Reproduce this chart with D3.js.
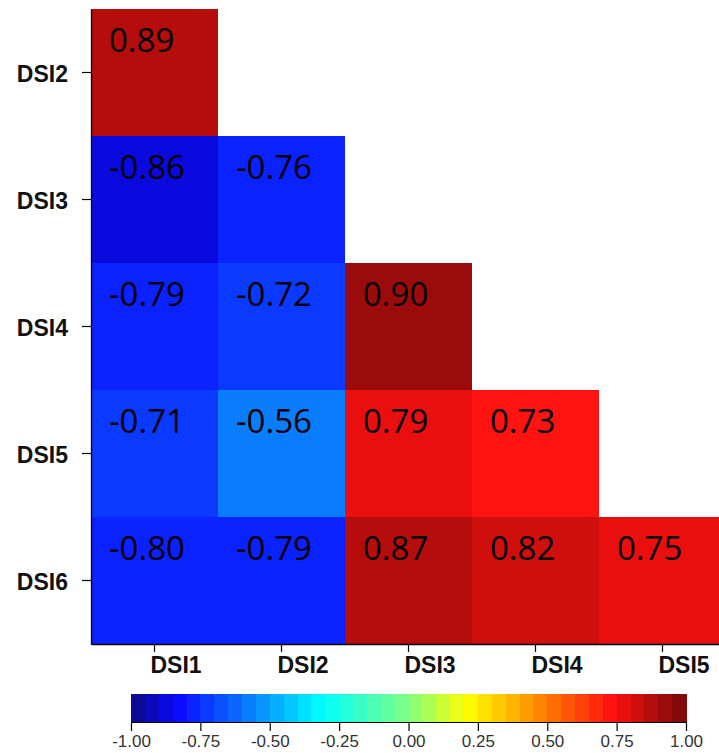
<!DOCTYPE html>
<html>
<head>
<meta charset="utf-8">
<script src="https://cdn.jsdelivr.net/npm/d3@7"></script>
<style>
  html, body { margin: 0; padding: 0; background: #fff; }
  svg { display: block; }
</style>
</head>
<body>
<svg id="chart" width="719" height="753"></svg>
<script>
// Variables on each axis of the lower-triangle correlation matrix
const rowVars = ["DSI2", "DSI3", "DSI4", "DSI5", "DSI6"];
const colVars = ["DSI1", "DSI2", "DSI3", "DSI4", "DSI5"];

// Correlation coefficients, one array per row (lower triangle only)
const corrDSI2 = [0.89];
const corrDSI3 = [-0.86, -0.76];
const corrDSI4 = [-0.79, -0.72, 0.90];
const corrDSI5 = [-0.71, -0.56, 0.79, 0.73];
const corrDSI6 = [-0.80, -0.79, 0.87, 0.82, 0.75];
const corrRows = [corrDSI2, corrDSI3, corrDSI4, corrDSI5, corrDSI6];

// Colour key ticks
const legendTicks = [-1, -0.75, -0.5, -0.25, 0, 0.25, 0.5, 0.75, 1];

// Jet-like colour ramp and the number of discrete colour steps
const rampStops = [-1, -0.85, -0.59, -0.32, 0, 0.22, 0.5, 0.75, 1];
const rampColors = ["#0a0a96", "#0a0aff", "#0a7dff", "#00ffff", "#80ff80",
                    "#ffff00", "#ff7f00", "#ff1010", "#820a0a"];
const nSteps = 40;

const svg = d3.select("#chart");

const ramp = d3.scaleLinear().domain(rampStops).range(rampColors)
  .interpolate(d3.interpolateRgb).clamp(true);
// colorRampPalette-style: evenly spaced samples from -1 to 1
const palette = d3.range(nSteps).map(k => ramp(-1 + 2 * k / (nSteps - 1)));
const color = d3.scaleQuantize().domain([-1, 1]).range(palette);

// Matrix scales
const x = d3.scaleBand().domain(colVars).range([91, 726]);
const y = d3.scaleBand().domain(rowVars).range([9, 644]);

const cells = [];
corrRows.forEach((vals, i) => {
  vals.forEach((v, j) => cells.push({ row: rowVars[i], col: colVars[j], value: v }));
});

const gCells = svg.append("g");
gCells.selectAll("rect").data(cells).join("rect")
  .attr("x", d => x(d.col))
  .attr("y", d => y(d.row))
  .attr("width", x.bandwidth())
  .attr("height", y.bandwidth())
  .attr("fill", d => color(d.value))
  .attr("shape-rendering", "crispEdges");

gCells.selectAll("text").data(cells).join("text")
  .attr("x", d => x(d.col) + 18)
  .attr("y", d => y(d.row) + 43)
  .attr("font-family", "'Open Sans', sans-serif")
  .attr("font-size", 33)
  .attr("fill", "#000")
  .text(d => d.value.toFixed(2));

// Axes
const axisFont = "'Liberation Sans', Arial, sans-serif";

const gLeft = svg.append("g").attr("transform", "translate(91,0)")
  .call(d3.axisLeft(y).tickSize(9).tickSizeOuter(0).tickPadding(14));
const gBottom = svg.append("g").attr("transform", "translate(0,644)")
  .call(d3.axisBottom(x).tickSize(8).tickSizeOuter(0).tickPadding(5));

[gLeft, gBottom].forEach(g => {
  g.select(".domain").attr("stroke", "#000").attr("stroke-width", 1.3);
  g.selectAll(".tick line").attr("stroke", "#000").attr("stroke-width", 1.2);
  g.selectAll(".tick text")
    .attr("font-family", axisFont)
    .attr("font-weight", "bold")
    .attr("font-size", 23)
    .attr("fill", "#111");
});
gLeft.selectAll(".tick text").attr("dy", "0.42em");
gBottom.selectAll(".tick text").attr("text-anchor", "start").attr("dx", -4);

// Colour key
const lx = d3.scaleLinear().domain([-1, 1]).range([131, 686]);
const keyTop = 694, keyBottom = 722;
const steps = d3.range(nSteps).map(k => ({
  lo: -1 + 2 * k / nSteps,
  hi: -1 + 2 * (k + 1) / nSteps,
  c: palette[k]
}));
svg.append("g").selectAll("rect").data(steps).join("rect")
  .attr("x", d => lx(d.lo))
  .attr("y", keyTop)
  .attr("width", d => lx(d.hi) - lx(d.lo) + 0.5)
  .attr("height", keyBottom - keyTop)
  .attr("fill", d => d.c)
  .attr("shape-rendering", "crispEdges");

const gKey = svg.append("g").attr("transform", `translate(0,${keyBottom})`)
  .call(d3.axisBottom(lx).tickValues(legendTicks).tickSize(9).tickSizeOuter(0)
    .tickPadding(4).tickFormat(d => d.toFixed(2)));
gKey.select(".domain").attr("stroke", "#000").attr("stroke-width", 1.2);
gKey.selectAll(".tick line").attr("stroke", "#000").attr("stroke-width", 1.2);
gKey.selectAll(".tick text")
  .attr("font-family", axisFont)
  .attr("font-size", 17)
  .attr("fill", "#333");
</script>
</body>
</html>
